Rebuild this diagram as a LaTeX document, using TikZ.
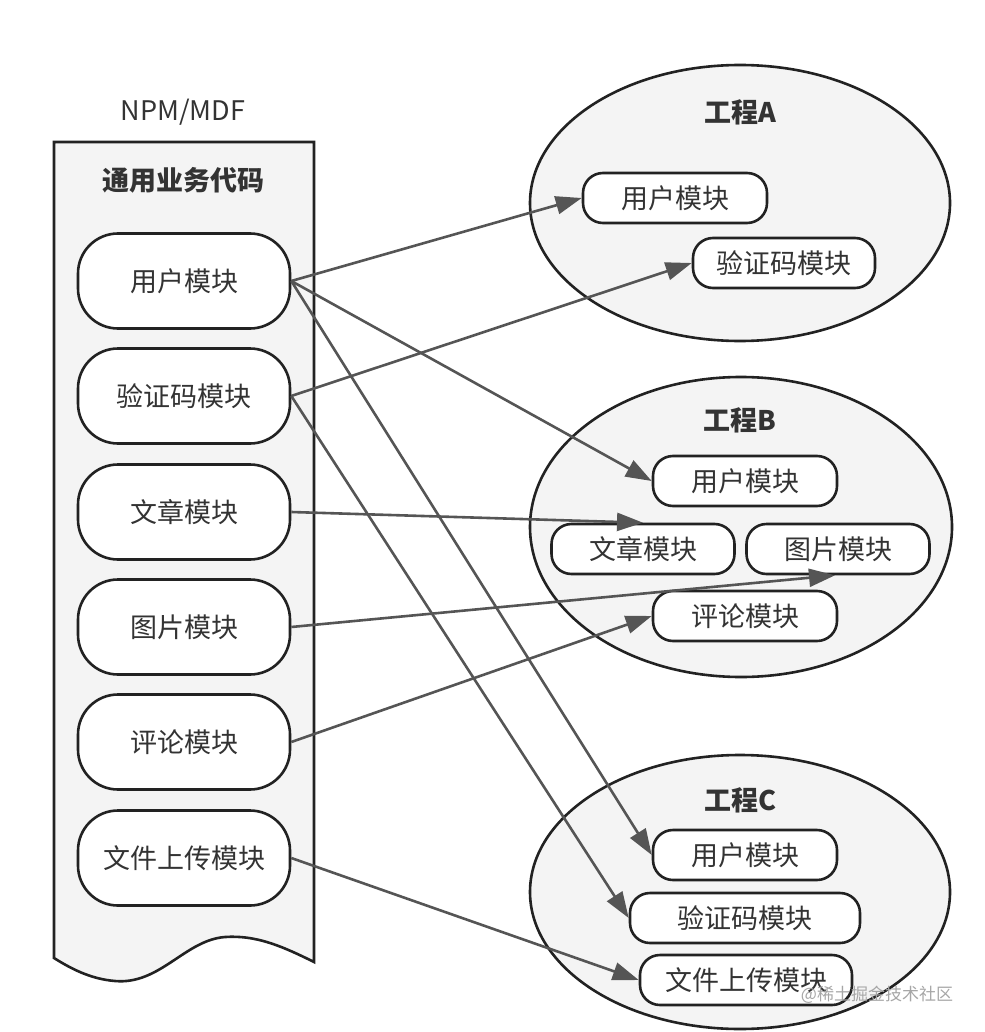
\documentclass[tikz,border=0pt]{standalone}
\usepackage{fontspec}
\setmainfont{Noto Sans CJK SC}
\usetikzlibrary{arrows.meta}
\definecolor{boxfill}{HTML}{F4F4F4}
\definecolor{edge}{HTML}{222222}
\definecolor{txt}{HTML}{333333}
\definecolor{arr}{HTML}{555555}
\tikzset{
  bigpill/.style={draw=edge, line width=2.6pt, fill=white, rounded corners=40pt,
    minimum width=212pt, minimum height=95pt, inner sep=0pt, text=txt, font=\fontsize{27}{30}\selectfont},
  pill/.style={draw=edge, line width=2.6pt, fill=white, rounded corners=20pt,
    minimum height=50pt, inner sep=0pt, text=txt, font=\fontsize{27}{30}\selectfont},
  proj/.style={draw=edge, line width=2.6pt, fill=boxfill, ellipse},
  ttl/.style={text=txt, font=\fontsize{27}{30}\selectfont\bfseries},
  link/.style={draw=arr, line width=2.6pt, -{Triangle[length=26pt,width=18pt]}},
}
\usetikzlibrary{shapes.geometric}
\begin{document}
\begin{tikzpicture}[x=1pt,y=-1pt]
\useasboundingbox (0,0) rectangle (984,1032);
% left container
\draw[draw=edge, line width=2.6pt, fill=boxfill]
  (54,142) -- (314,142) -- (314,962)
  .. controls (280,945) and (255,935) .. (225,937)
  .. controls (185,940) and (160,985) .. (115,981)
  .. controls (90,979) and (70,968) .. (54,958) -- cycle;
\node[text=txt, font=\fontsize{27}{30}\selectfont] (npm) at (183,112) {NPM/MDF};
\node[ttl] (common) at (183,180) {通用业务代码};
\node[bigpill] (lyh) at (184,281) {用户模块};
\node[bigpill] (lyz) at (184,396) {验证码模块};
\node[bigpill] (lwz) at (184,512) {文章模块};
\node[bigpill] (ltp) at (184,627) {图片模块};
\node[bigpill] (lpl) at (184,742) {评论模块};
\node[bigpill] (lwj) at (184,858) {文件上传模块};
% projects
\node[proj, minimum width=420pt, minimum height=276pt] (pa) at (740,203) {};
\node[proj, minimum width=422pt, minimum height=300pt] (pb) at (741,527) {};
\node[proj, minimum width=420pt, minimum height=274pt] (pc) at (740,892) {};
\node[ttl] (ta) at (740,112) {工程A};
\node[ttl] (tb) at (740,420) {工程B};
\node[ttl] (tc) at (740,800) {工程C};
\node[pill, minimum width=184pt] (ayh) at (675,198) {用户模块};
\node[pill, minimum width=182pt] (ayz) at (784,263) {验证码模块};
\node[pill, minimum width=184pt] (byh) at (745,481) {用户模块};
\node[pill, minimum width=183pt] (bwz) at (643,549) {文章模块};
\node[pill, minimum width=183pt] (btp) at (838,549) {图片模块};
\node[pill, minimum width=184pt] (bpl) at (745,616) {评论模块};
\node[pill, minimum width=184pt] (cyh) at (745,855) {用户模块};
\node[pill, minimum width=230pt] (cyz) at (745,918) {验证码模块};
\node[pill, minimum width=212pt] (cwj) at (746,980) {文件上传模块};
\node[text=black!35, font=\fontsize{17}{20}\selectfont] (wm) at (877,995) {@稀土掘金技术社区};
% links
\draw[link] (lyh.east) -- (ayh.west);
\draw[link] (lyh.east) -- (byh.west);
\draw[link] (lyh.east) -- (cyh.west);
\draw[link] (lyz.east) -- (ayz.west);
\draw[link] (lyz.east) -- (cyz.west);
\draw[link] (lwz.east) -- (bwz.north);
\draw[link] (ltp.east) -- ([xshift=-3pt]btp.south);
\draw[link] (lpl.east) -- (bpl.west);
\draw[link] (lwj.east) -- (cwj.west);
\end{tikzpicture}
\end{document}
